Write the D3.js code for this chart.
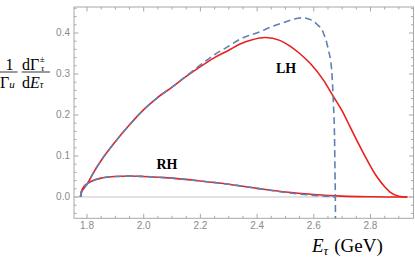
<!doctype html>
<html lang="en">
  <head>
    <meta charset="UTF-8" />
    <title>Tau energy spectrum</title>
    <script src="https://cdn.jsdelivr.net/npm/d3@7"></script>
    <style>
      body { margin: 0; background: #fff; }
      svg { display: block; }
      .tick-label { font-family: "Liberation Sans", sans-serif; font-size: 10px; fill: #8a8a8a; }
      .serif { font-family: "Liberation Serif", serif; fill: #000; }
    </style>
  </head>
  <body>
    <div id="chart"></div>
    <script>
      // values (E in GeV, rate normalised)
      const lhFullE = [1.777, 1.78, 1.79, 1.80, 1.825, 1.85, 1.90, 1.95, 2.00, 2.05, 2.10, 2.15, 2.20, 2.25, 2.30, 2.34, 2.38, 2.43, 2.48, 2.516, 2.55, 2.587, 2.634, 2.669, 2.70, 2.728, 2.775, 2.822, 2.85, 2.869, 2.90, 2.93];
      const lhFullV = [0, 0.011, 0.022, 0.031, 0.062, 0.089, 0.135, 0.176, 0.213, 0.243, 0.268, 0.294, 0.318, 0.340, 0.358, 0.373, 0.383, 0.389, 0.382, 0.368, 0.350, 0.326, 0.285, 0.245, 0.210, 0.171, 0.107, 0.050, 0.025, 0.012, 0.002, 0];

      const lhApproxE = [1.777, 1.78, 1.79, 1.80, 1.825, 1.85, 1.90, 1.95, 2.00, 2.05, 2.10, 2.15, 2.20, 2.25, 2.30, 2.34, 2.41, 2.45, 2.50, 2.53, 2.56, 2.59, 2.61, 2.634, 2.651, 2.663, 2.669, 2.673, 2.675, 2.676, 2.6765];
      const lhApproxV = [0, 0.011, 0.022, 0.031, 0.062, 0.089, 0.135, 0.176, 0.213, 0.243, 0.268, 0.295, 0.322, 0.347, 0.368, 0.385, 0.403, 0.415, 0.427, 0.434, 0.437, 0.432, 0.422, 0.400, 0.360, 0.310, 0.230, 0.150, 0.050, 0, -0.07];

      const rhFullE = [1.777, 1.78, 1.79, 1.80, 1.825, 1.85, 1.90, 1.95, 2.00, 2.10, 2.20, 2.30, 2.40, 2.50, 2.60, 2.70, 2.80, 2.90, 2.93];
      const rhFullV = [0, 0.012, 0.026, 0.032, 0.041, 0.046, 0.050, 0.051, 0.050, 0.046, 0.039, 0.031, 0.021, 0.012, 0.006, 0.002, 0.0005, 0, 0];

      const rhApproxE = [1.777, 1.78, 1.79, 1.80, 1.825, 1.85, 1.90, 1.95, 2.00, 2.10, 2.20, 2.30, 2.40, 2.50, 2.60, 2.676];
      const rhApproxV = [0, 0.012, 0.026, 0.032, 0.041, 0.046, 0.050, 0.051, 0.050, 0.046, 0.039, 0.031, 0.021, 0.011, 0.004, 0];

      const xTicks = [1.8, 2.0, 2.2, 2.4, 2.6, 2.8];
      const yTicks = [0.0, 0.1, 0.2, 0.3, 0.4];

      const width = 415;
      const height = 257;
      const frameLeft = 74;
      const frameRight = 413.5;
      const frameTop = 7;
      const frameBottom = 218.3;

      const red = "#e8201c";
      const blue = "#5e81b5";
      const gray = "#a8a8a8";

      const x = d3.scaleLinear().domain([1.7541, 2.9517]).range([frameLeft, frameRight]);
      const y = d3.scaleLinear().domain([-0.052, 0.4634]).range([frameBottom, frameTop]);

      const svg = d3.select("#chart").append("svg")
        .attr("width", width)
        .attr("height", height);

      svg.append("clipPath").attr("id", "plot-clip")
        .append("rect")
        .attr("x", frameLeft).attr("y", frameTop)
        .attr("width", frameRight - frameLeft).attr("height", frameBottom - frameTop);

      // zero line
      svg.append("line")
        .attr("x1", frameLeft).attr("x2", frameRight)
        .attr("y1", y(0)).attr("y2", y(0))
        .attr("stroke", "#c4c4c4").attr("stroke-width", 1);

      // frame with ticks on every side
      const frame = svg.append("g");
      frame.append("rect")
        .attr("x", frameLeft).attr("y", frameTop)
        .attr("width", frameRight - frameLeft).attr("height", frameBottom - frameTop)
        .attr("fill", "none").attr("stroke", gray).attr("stroke-width", 1);

      const xMinor = d3.range(1.75, 2.951, 0.05).filter(v => x(v) > frameLeft + 1 && x(v) < frameRight - 1);
      const yMinor = d3.range(-0.04, 0.461, 0.02).filter(v => y(v) < frameBottom - 1 && y(v) > frameTop + 1);
      const isMajor = (v, list) => list.some(t => Math.abs(t - v) < 1e-6);

      xMinor.forEach(v => {
        const len = isMajor(v, xTicks) ? 4.5 : 2.5;
        frame.append("line").attr("x1", x(v)).attr("x2", x(v))
          .attr("y1", frameBottom).attr("y2", frameBottom - len)
          .attr("stroke", gray);
        frame.append("line").attr("x1", x(v)).attr("x2", x(v))
          .attr("y1", frameTop).attr("y2", frameTop + len)
          .attr("stroke", gray);
      });
      yMinor.forEach(v => {
        const len = isMajor(v, yTicks) ? 4.5 : 2.5;
        frame.append("line").attr("x1", frameLeft).attr("x2", frameLeft + len)
          .attr("y1", y(v)).attr("y2", y(v))
          .attr("stroke", gray);
        frame.append("line").attr("x1", frameRight).attr("x2", frameRight - len)
          .attr("y1", y(v)).attr("y2", y(v))
          .attr("stroke", gray);
      });

      svg.selectAll(".xlab").data(xTicks).enter().append("text")
        .attr("class", "tick-label")
        .attr("x", d => x(d)).attr("y", 229)
        .attr("text-anchor", "middle")
        .text(d3.format(".1f"));

      svg.selectAll(".ylab").data(yTicks).enter().append("text")
        .attr("class", "tick-label")
        .attr("x", 70).attr("y", d => y(d) + 3.5)
        .attr("text-anchor", "end")
        .text(d3.format(".1f"));

      // curves
      const line = d3.line()
        .x(d => x(d[0]))
        .y(d => y(d[1]))
        .curve(d3.curveMonotoneX);

      const plot = svg.append("g").attr("clip-path", "url(#plot-clip)");

      plot.append("path").datum(d3.zip(lhFullE, lhFullV))
        .attr("d", line).attr("fill", "none")
        .attr("stroke", red).attr("stroke-width", 1.6);
      plot.append("path").datum(d3.zip(rhFullE, rhFullV))
        .attr("d", line).attr("fill", "none")
        .attr("stroke", red).attr("stroke-width", 1.6);

      plot.append("path").datum(d3.zip(lhApproxE, lhApproxV))
        .attr("d", line).attr("fill", "none")
        .attr("stroke", blue).attr("stroke-width", 1.6)
        .attr("stroke-dasharray", "7,4");
      plot.append("path").datum(d3.zip(rhApproxE, rhApproxV))
        .attr("d", line).attr("fill", "none")
        .attr("stroke", blue).attr("stroke-width", 1.6)
        .attr("stroke-dasharray", "7,4");

      // curve labels
      svg.append("text").attr("class", "serif")
        .attr("x", 286).attr("y", 73).attr("text-anchor", "middle")
        .attr("font-size", 14).attr("font-weight", "bold")
        .text("LH");
      svg.append("text").attr("class", "serif")
        .attr("x", 167).attr("y", 169).attr("text-anchor", "middle")
        .attr("font-size", 14).attr("font-weight", "bold")
        .text("RH");

      // x axis title: E_tau (GeV)
      const xt = svg.append("text").attr("class", "serif")
        .attr("x", 312).attr("y", 252).attr("font-size", 19);
      xt.append("tspan").attr("font-style", "italic").text("E");
      xt.append("tspan").attr("font-style", "italic").attr("font-size", 13).attr("dy", 3).text("τ");
      xt.append("tspan").attr("dy", -3).attr("dx", 6).text("(GeV)");

      // y axis title: 1/Gamma_u dGamma/dE
      const yl = svg.append("g").attr("class", "serif");
      yl.append("text").attr("x", 9.5).attr("y", 69.5).attr("font-size", 16)
        .attr("text-anchor", "middle").text("1");
      yl.append("line").attr("x1", 0).attr("x2", 17.5).attr("y1", 72).attr("y2", 72)
        .attr("stroke", "#000").attr("stroke-width", 0.8);
      const den1 = yl.append("text").attr("x", 0).attr("y", 87.7).attr("font-size", 16);
      den1.append("tspan").text("Γ");
      den1.append("tspan").attr("font-style", "italic").attr("font-size", 11).attr("dy", 0.5).text("u");

      // numerator with stacked super/subscript on Gamma
      const num2 = yl.append("text").attr("x", 22).attr("y", 69.5).attr("font-size", 16);
      num2.append("tspan").text("dΓ");
      num2.append("tspan").attr("font-size", 9).attr("dy", -8).attr("dx", 0.5).text("±");
      yl.append("text").attr("x", 41).attr("y", 70.5).attr("font-size", 9).attr("font-style", "italic").text("τ");
      yl.append("line").attr("x1", 21.7).attr("x2", 50).attr("y1", 72).attr("y2", 72)
        .attr("stroke", "#000").attr("stroke-width", 0.8);
      const den2 = yl.append("text").attr("x", 22).attr("y", 87.7).attr("font-size", 16);
      den2.append("tspan").text("d");
      den2.append("tspan").attr("font-style", "italic").text("E");
      den2.append("tspan").attr("font-style", "italic").attr("font-size", 10).attr("dy", 0.5).text("τ");
    </script>
  </body>
</html>
